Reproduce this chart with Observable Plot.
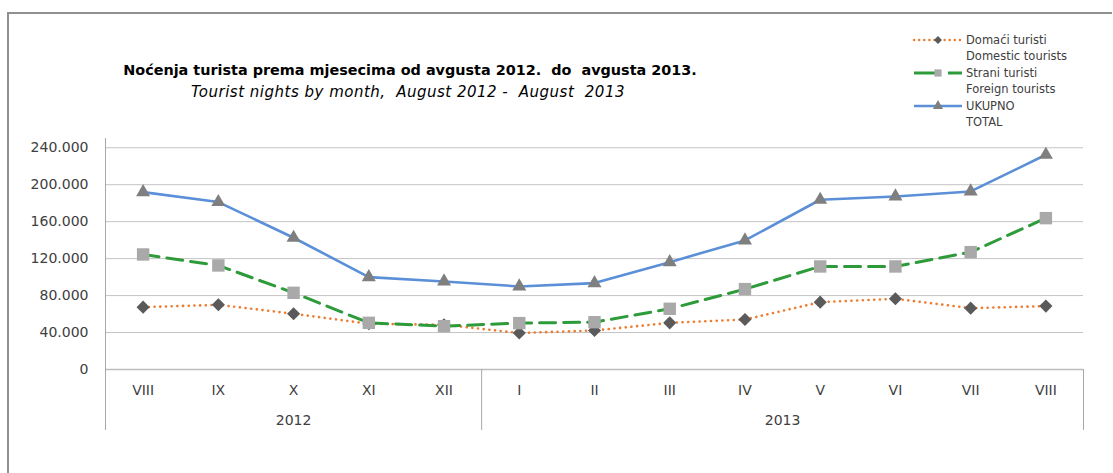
<!DOCTYPE html>
<html><head><meta charset="utf-8">
<script src="https://cdn.jsdelivr.net/npm/d3@7"></script>
<script src="https://cdn.jsdelivr.net/npm/@observablehq/plot@0.6"></script>
<style>
body{margin:0;background:#fff;}
#wrap{position:relative;width:1113px;height:473px;overflow:hidden;background:#fff;font-family:"DejaVu Sans",sans-serif;}
#border{position:absolute;left:7px;top:12px;width:1103px;height:470px;border-left:2px solid #909090;border-top:2px solid #909090;z-index:5;pointer-events:none;}
#chart{position:absolute;left:0;top:0;}
#title{position:absolute;left:110px;width:600px;top:62px;line-height:16px;text-align:center;font-weight:bold;font-size:14.4px;white-space:pre;color:#000;}
#subtitle{position:absolute;left:108px;width:600px;top:84px;line-height:16px;text-align:center;font-style:italic;font-size:15px;letter-spacing:0.5px;white-space:pre;color:#000;}
#legend{position:absolute;left:905px;top:28px;}
</style></head>
<body>
<div id="wrap">
  <div id="chart"></div>
  <div id="title">Noćenja turista prema mjesecima od avgusta 2012.  do  avgusta 2013.</div>
  <div id="subtitle">Tourist nights by month,  August 2012 -  August  2013</div>
  <div id="legend"></div>
  <div id="border"></div>
</div>
<script>
// ---- data ----
const months = ["VIII","IX","X","XI","XII","I","II","III","IV","V","VI","VII","VIII"];
const years = [2012,2012,2012,2012,2012,2013,2013,2013,2013,2013,2013,2013,2013];
const domestic = [67500, 70000, 60300, 49500, 48400, 39500, 42200, 50500, 54100, 72900, 76500, 66400, 68600];
const foreign  = [124500, 112600, 83000, 50500, 46900, 50200, 51200, 65700, 87000, 111500, 111500, 127000, 163800];
const total    = [192000, 181200, 142600, 100000, 95300, 89900, 93500, 116200, 139700, 183700, 187300, 192700, 232400];
const yTicks = [0, 40000, 80000, 120000, 160000, 200000, 240000];
const seriesNames = [["Domaći turisti","Domestic tourists"],["Strani turisti","Foreign tourists"],["UKUPNO","TOTAL"]];

// ---- derived ----
const idx = months.map((_, i) => i);
const xDomain = [-0.5, months.length - 0.5];
const yearList = Array.from(new Set(years));
const yearGroups = yearList.map(y => {
  const ii = idx.filter(i => years[i] === y);
  return {year: y, first: ii[0], last: ii[ii.length - 1]};
});
const yearCenters = yearGroups.map(g => (g.first + g.last) / 2);
const boundaries = [xDomain[0], ...yearGroups.map(g => g.last + 0.5)];
const fmt = d3.formatLocale({decimal: ",", thousands: ".", grouping: [3], currency: ["", ""]}).format(",");

const C = {dom: "#ed7d31", for: "#2e9b3a", tot: "#5b8fd8", dia: "#5a5a5a", sq: "#a9a9a9", tri: "#7f7f7f"};

const chart = Plot.plot({
  width: 1113,
  height: 473,
  marginLeft: 105,
  marginRight: 30,
  marginTop: 138,
  marginBottom: 104,
  style: {background: "transparent", fontFamily: "DejaVu Sans, sans-serif", fontSize: "14px", color: "#404040"},
  x: {domain: xDomain},
  y: {domain: [0, 250000]},
  marks: [
    Plot.gridY(yTicks.filter(d => d > 0), {stroke: "#c4c4c4", strokeOpacity: 1}),
    Plot.ruleY([0], {stroke: "#bdbdbd", strokeWidth: 1.5}),
    Plot.ruleX([xDomain[0]], {stroke: "#a8a8a8"}),
    Plot.axisY(yTicks, {tickSize: 0, tickPadding: 17, tickFormat: fmt, fontSize: 14, fill: "#404040"}),
    Plot.axisX(idx, {tickSize: 0, tickPadding: 16, tickFormat: i => months[i], fontSize: 14, fill: "#404040"}),
    Plot.axisX(yearCenters, {tickSize: 0, tickPadding: 46, tickFormat: (d, k) => String(yearGroups[k].year), fontSize: 14, fill: "#404040"}),
    Plot.axisX(boundaries, {tickSize: 61, tickFormat: () => "", stroke: "#a8a8a8"}),
    Plot.line(idx, {x: i => i, y: i => domestic[i], stroke: C.dom, strokeWidth: 2.6, strokeDasharray: "0.1 5.6", strokeLinecap: "round"}),
    Plot.dot(idx, {x: i => i, y: i => domestic[i], symbol: "diamond2", r: 5.9, fill: C.dia, stroke: null}),
    Plot.line(idx, {x: i => i, y: i => foreign[i], stroke: C.for, strokeWidth: 3, strokeDasharray: "16 8"}),
    Plot.dot(idx, {x: i => i, y: i => foreign[i], symbol: "square", r: 7, fill: C.sq, stroke: null}),
    Plot.line(idx, {x: i => i, y: i => total[i], stroke: C.tot, strokeWidth: 2.6}),
    Plot.dot(idx, {x: i => i, y: i => total[i], symbol: "triangle", r: 5.2, fill: C.tri, stroke: null})
  ]
});
document.getElementById("chart").appendChild(chart);

// ---- legend ----
const leg = d3.select("#legend").append("svg").attr("width", 208).attr("height", 105)
  .style("font-family", "DejaVu Sans, sans-serif").style("font-size", "11.5px");
const legendDefs = [
  {color: C.dom, dash: "0.1 5", width: 2.4, cap: "round", sym: d3.symbolDiamond2, size: 40, fill: C.dia},
  {color: C.for, dash: "21 13", width: 3, cap: "butt", sym: d3.symbolSquare, size: 52, fill: C.sq},
  {color: C.tot, dash: null, width: 2.6, cap: "butt", sym: d3.symbolTriangle, size: 45, fill: C.tri}
];
legendDefs.forEach((d, k) => {
  const y = 12 + k * 33;
  const g = leg.append("g");
  g.append("line").attr("x1", 9).attr("x2", 57).attr("y1", y).attr("y2", y)
    .attr("stroke", d.color).attr("stroke-width", d.width).attr("stroke-linecap", d.cap)
    .attr("stroke-dasharray", d.dash);
  g.append("path").attr("d", d3.symbol(d.sym, d.size)()).attr("transform", `translate(33,${y})`).attr("fill", d.fill);
  g.append("text").attr("x", 61).attr("y", y).attr("dy", "0.35em").attr("fill", "#404040").text(seriesNames[k][0]);
  g.append("text").attr("x", 61).attr("y", y + 16).attr("dy", "0.35em").attr("fill", "#404040").text(seriesNames[k][1]);
});
</script>
</body></html>
